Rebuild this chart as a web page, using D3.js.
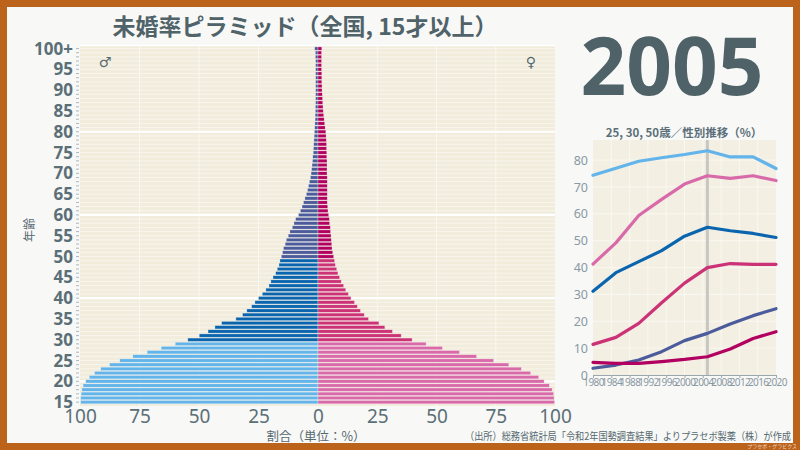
<!DOCTYPE html>
<html>
<head>
<meta charset="utf-8">
<script src="https://cdn.jsdelivr.net/npm/d3@7"></script>
<style>
  body { margin: 0; background: #bb621b; }
  svg { display: block; font-family: "Noto Sans", "Noto Sans CJK JP", sans-serif; }
</style>
</head>
<body>
<svg id="chart" width="800" height="450"></svg>
<script>
// ages 15..99, 100+
var ages = d3.range(15, 100).map(String).concat(["100+"]);

// unmarried rate 2005 (%)
var male = [
  99.7, 99.7, 99.5, 99.2, 98.7, 97.6, 96.1, 93.9, 91.3, 87.6, 83.3, 77.8, 71.8, 65.9, 60.0,
  54.7, 49.9, 46.2, 43.3, 40.5,
  34.5, 31.7, 29.9, 27.9, 26.5,
  25.0, 23.4, 21.9, 20.6, 19.8,
  18.9, 17.8, 17.1, 16.4, 16.0,
  15.4, 14.9, 14.5, 13.8, 13.3,
  12.5, 11.8, 10.8, 10.1, 9.4,
  8.2, 7.4, 6.7, 6.1, 5.5,
  4.9, 4.4, 4.0, 3.6, 3.2,
  2.9, 2.7, 2.5, 2.3, 2.2,
  2.0, 1.9, 1.8, 1.7, 1.6,
  1.5, 1.4, 1.3, 1.2, 1.2,
  1.1, 1.1, 1.0, 1.0, 1.0,
  1.0, 1.0, 1.0, 1.0, 1.0,
  1.0, 1.0, 1.0, 1.1, 1.1,
  1.4
];
var female = [
  99.8, 99.6, 99.4, 98.8, 97.6, 95.4, 93.1, 89.7, 85.8, 80.5, 74.1, 66.9, 59.7, 52.5, 45.6,
  39.7, 35.1, 31.4, 28.2, 25.7,
  21.3, 19.5, 17.9, 16.6, 15.4,
  13.9, 12.8, 11.7, 10.8, 9.8,
  9.1, 8.4, 7.9, 7.3, 7.0,
  6.6, 6.2, 5.9, 5.8, 5.6,
  5.5, 5.3, 5.2, 4.9, 4.8,
  4.5, 4.2, 4.1, 3.9, 3.9,
  3.9, 3.9, 3.9, 3.9, 3.9,
  3.8, 3.8, 3.8, 3.8, 3.7,
  3.7, 3.6, 3.6, 3.5, 3.4,
  3.3, 3.0, 2.8, 2.6, 2.4,
  2.2, 2.1, 2.0, 1.9, 1.8,
  1.7, 1.7, 1.6, 1.6, 1.6,
  1.5, 1.5, 1.5, 1.5, 1.5,
  1.6
];
var xTicks = [0, 25, 50, 75, 100];

// trend at ages 25, 30, 50
var years = [1980, 1985, 1990, 1995, 2000, 2005, 2010, 2015, 2020];
var male25 = [74.4, 77.0, 79.6, 80.9, 82.1, 83.5, 81.2, 81.2, 76.9];
var female25 = [41.3, 49.2, 59.4, 65.4, 71.1, 74.2, 73.2, 74.2, 72.4];
var male30 = [31.2, 38.1, 42.2, 46.3, 51.7, 55.0, 53.7, 52.7, 51.2];
var female30 = [11.4, 14.0, 19.2, 26.9, 34.2, 40.0, 41.5, 41.2, 41.2];
var male50 = [2.5, 3.7, 5.6, 8.7, 12.8, 15.5, 19.0, 22.1, 24.7];
var female50 = [4.7, 4.3, 4.3, 5.0, 5.8, 6.8, 9.7, 13.6, 16.1];
var currentYear = 2005;

var maleColors = ["#62b4ea", "#0b65ae", "#4b5b9b"];
var femaleColors = ["#d96aa9", "#cc3377", "#b1005f"];
var txt = "#55696f";

function group(i) { var a = i + 15; return a < 30 ? 0 : (a < 50 ? 1 : 2); }

var svg = d3.select("#chart");

// frame
svg.append("rect").attr("x", 0).attr("y", 0).attr("width", 800).attr("height", 450).attr("fill", "#bb621b");
svg.append("rect").attr("x", 7).attr("y", 7).attr("width", 786).attr("height", 436).attr("fill", "#f8f8f7");

svg.append("text").attr("x", 305).attr("y", 35).attr("text-anchor", "middle")
  .attr("font-size", 23).attr("font-weight", "bold").attr("fill", "#4f6369")
  .attr("font-family", "'Noto Sans CJK JP', sans-serif")
  .text("未婚率ピラミッド（全国, 15才以上）");

// ---- pyramid ----
var y = d3.scaleBand().domain(ages).range([403.8, 46.9]).paddingInner(0.2);
var xm = d3.scaleLinear().domain([0, 100]).range([318, 80]);
var xf = d3.scaleLinear().domain([0, 100]).range([318, 555]);

svg.append("rect").attr("x", 80).attr("y", 45).attr("width", 475).attr("height", 361).attr("fill", "#f1ecdc");

var pg = svg.append("g");
// faint row lines
pg.selectAll("line.row").data(ages).enter().append("line")
  .attr("x1", 80).attr("x2", 555)
  .attr("y1", d => y(d) + y.bandwidth() / 2).attr("y2", d => y(d) + y.bandwidth() / 2)
  .attr("stroke", "#f8f5ec").attr("stroke-width", 1);
// vertical grid
pg.selectAll("line.vm").data(xTicks.slice(1, 4)).enter().append("line")
  .attr("x1", d => xm(d)).attr("x2", d => xm(d)).attr("y1", 45).attr("y2", 406)
  .attr("stroke", "#f9f7f0").attr("stroke-width", 1);
pg.selectAll("line.vf").data(xTicks.slice(1, 4)).enter().append("line")
  .attr("x1", d => xf(d)).attr("x2", d => xf(d)).attr("y1", 45).attr("y2", 406)
  .attr("stroke", "#f9f7f0").attr("stroke-width", 1);
// major horizontal grid
pg.selectAll("line.major").data(["20", "40", "60", "80"]).enter().append("line")
  .attr("x1", 80).attr("x2", 555)
  .attr("y1", d => y(d) + y.bandwidth() / 2).attr("y2", d => y(d) + y.bandwidth() / 2)
  .attr("stroke", "#ffffff").attr("stroke-width", 2.2);
pg.append("line").attr("x1", 80).attr("x2", 555).attr("y1", 45.5).attr("y2", 45.5)
  .attr("stroke", "#ffffff").attr("stroke-width", 1.5);

pg.selectAll("rect.m").data(male).enter().append("rect")
  .attr("x", d => xm(d)).attr("width", d => xm(0) - xm(d))
  .attr("y", (d, i) => y(ages[i])).attr("height", y.bandwidth())
  .attr("fill", (d, i) => maleColors[group(i)])
  .attr("stroke", "#ffffff").attr("stroke-opacity", 0.45).attr("stroke-width", 0.6);
pg.selectAll("rect.f").data(female).enter().append("rect")
  .attr("x", xf(0)).attr("width", d => xf(d) - xf(0))
  .attr("y", (d, i) => y(ages[i])).attr("height", y.bandwidth())
  .attr("fill", (d, i) => femaleColors[group(i)])
  .attr("stroke", "#ffffff").attr("stroke-opacity", 0.45).attr("stroke-width", 0.6);

// y axis
var ya = svg.append("g").attr("transform", "translate(79,0)")
  .call(d3.axisLeft(y).tickSize(3).tickPadding(3)
    .tickFormat(d => (d === "100+" || (+d % 5 === 0)) ? d : ""));
ya.select(".domain").remove();
ya.selectAll(".tick line").attr("stroke", "#9aa8ae").attr("stroke-width", 0.8);
ya.selectAll(".tick text").attr("font-size", 17).attr("font-weight", "bold").attr("fill", "#5b6f77")
  .attr("font-family", "'Noto Sans', sans-serif").attr("dy", "0.36em");

svg.append("text").attr("transform", "translate(34,230) rotate(-90)").attr("text-anchor", "middle")
  .attr("font-size", 12).attr("fill", txt).attr("font-family", "'Noto Sans CJK JP', sans-serif").text("年齢");

// x axis
var xa1 = svg.append("g").attr("transform", "translate(0,406)")
  .call(d3.axisBottom(xm).tickValues(xTicks).tickSize(0).tickPadding(3));
var xa2 = svg.append("g").attr("transform", "translate(0,406)")
  .call(d3.axisBottom(xf).tickValues(xTicks.slice(1)).tickSize(0).tickPadding(3));
[xa1, xa2].forEach(function (a) {
  a.select(".domain").remove();
  a.selectAll(".tick text").attr("font-size", 19).attr("fill", "#5b6f77")
    .attr("font-family", "'Noto Sans', sans-serif").attr("dy", "0.72em");
});

svg.append("text").attr("x", 316).attr("y", 441).attr("text-anchor", "middle")
  .attr("font-size", 12.5).attr("fill", txt).attr("font-family", "'Noto Sans CJK JP', sans-serif")
  .text("割合（単位：%）");
svg.append("text").attr("x", 791).attr("y", 440).attr("text-anchor", "end")
  .attr("font-size", 10.5).attr("fill", txt).attr("font-family", "'Noto Sans CJK JP', sans-serif")
  .attr("textLength", 326).attr("lengthAdjust", "spacingAndGlyphs")
  .text("（出所）総務省統計局「令和2年国勢調査結果」よりプラセボ製薬（株）が作成");
svg.append("text").attr("x", 797).attr("y", 448).attr("text-anchor", "end")
  .attr("font-size", 5).attr("fill", "#f0d8c0").attr("font-family", "'Noto Sans CJK JP', sans-serif")
  .text("プラセボ・グラビクス");

svg.append("text").attr("x", 105).attr("y", 67).attr("text-anchor", "middle")
  .attr("font-size", 14).attr("fill", txt).attr("font-family", "'DejaVu Sans', sans-serif").text("♂");
svg.append("text").attr("x", 531).attr("y", 67).attr("text-anchor", "middle")
  .attr("font-size", 14).attr("fill", txt).attr("font-family", "'DejaVu Sans', sans-serif").text("♀");

// ---- big year ----
svg.append("text").attr("x", 672).attr("y", 95).attr("text-anchor", "middle")
  .attr("font-size", 80).attr("font-weight", "bold").attr("fill", "#4e6268")
  .attr("font-family", "'Noto Sans', sans-serif").text(currentYear);

// ---- trend chart ----
var lx = d3.scaleLinear().domain([1980, 2020]).range([593, 776]);
var ly = d3.scaleLinear().domain([0, 87.5]).range([375, 140]);

svg.append("text").attr("x", 684).attr("y", 137).attr("text-anchor", "middle")
  .attr("font-size", 11.5).attr("font-weight", "bold").attr("fill", "#5b6f77")
  .attr("font-family", "'Noto Sans CJK JP', sans-serif").text("25, 30, 50歳／性別推移（%）");

svg.append("rect").attr("x", 593).attr("y", 140).attr("width", 183).attr("height", 235).attr("fill", "#f3efe3");
var lg = svg.append("g");
lg.selectAll("line.gy").data(d3.range(10, 90, 10)).enter().append("line")
  .attr("x1", 593).attr("x2", 776).attr("y1", d => ly(d)).attr("y2", d => ly(d))
  .attr("stroke", "#faf8f2").attr("stroke-width", 1);
lg.selectAll("line.gx").data(d3.range(1984, 2020, 4)).enter().append("line")
  .attr("x1", d => lx(d)).attr("x2", d => lx(d)).attr("y1", 140).attr("y2", 375)
  .attr("stroke", "#faf8f2").attr("stroke-width", 1);
lg.append("line").attr("x1", lx(currentYear)).attr("x2", lx(currentYear)).attr("y1", 140).attr("y2", 375)
  .attr("stroke", "#c8c6c2").attr("stroke-width", 3);

var series = [
  { v: male25, c: maleColors[0] }, { v: female25, c: femaleColors[0] },
  { v: male30, c: maleColors[1] }, { v: female30, c: femaleColors[1] },
  { v: male50, c: maleColors[2] }, { v: female50, c: femaleColors[2] }
];
var line = d3.line().x((d, i) => lx(years[i])).y(d => ly(d));
lg.selectAll("path.s").data(series).enter().append("path")
  .attr("d", d => line(d.v)).attr("fill", "none").attr("stroke", d => d.c)
  .attr("stroke-width", 3.2).attr("stroke-linejoin", "round").attr("stroke-linecap", "round");

var lya = svg.append("g").attr("transform", "translate(593,0)")
  .call(d3.axisLeft(ly).tickValues(d3.range(0, 90, 10)).tickSize(0).tickPadding(5));
lya.select(".domain").remove();
lya.selectAll(".tick text").attr("font-size", 12.5).attr("fill", "#8a99a2").attr("font-family", "'Noto Sans', sans-serif");

var lxa = svg.append("g").attr("transform", "translate(0,375)")
  .call(d3.axisBottom(lx).tickValues(d3.range(1980, 2021, 4)).tickFormat(d3.format("d")).tickSize(3).tickPadding(1));
lxa.select(".domain").attr("stroke", "#9aa8ae");
lxa.selectAll(".tick line").attr("stroke", "#9aa8ae");
lxa.selectAll(".tick text").attr("font-size", 10).attr("fill", "#8a99a2")
  .attr("font-family", "'Noto Sans', sans-serif").attr("letter-spacing", "-0.6");
</script>
</body>
</html>
